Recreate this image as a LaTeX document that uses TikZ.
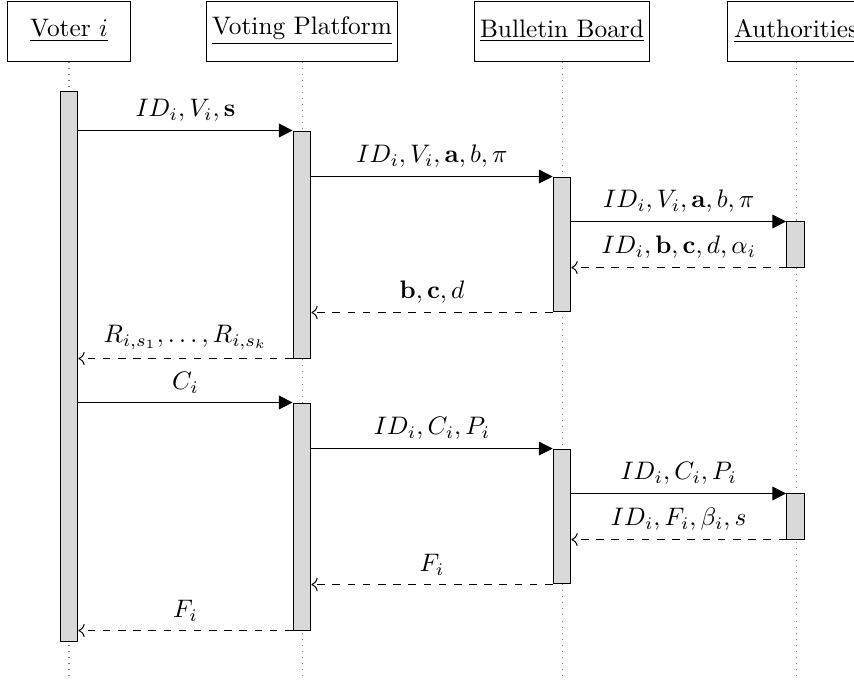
\documentclass[tikz,border=0pt]{standalone}
\usetikzlibrary{arrows.meta}
\begin{document}
\begin{tikzpicture}[x=0.395pt,y=-0.395pt,
  head/.style={draw, minimum height=23.7pt, inner sep=0pt},
  life/.style={draw=gray, dotted},
  act/.style={draw, fill=gray!30, minimum width=7pt, inner sep=0pt},
  call/.style={-{Triangle[length=5.4pt,width=5.4pt]}},
  ret/.style={dashed, ->},
  lab/.style={above, midway}]
\clip (0,0) rectangle (854,679);
\coordinate (bot) at (0,679);
% headers
\node[head, minimum width=48.2pt] (vh) at (69,31) {\underline{Voter $i$}};
\node[head, minimum width=75.8pt] (ph) at (302,31) {\underline{Voting Platform}};
\node[head, minimum width=69.1pt] (bh) at (562,31) {\underline{Bulletin Board}};
\node[head, minimum width=54.5pt] (ah) at (796,31) {\underline{Authorities}};
% lifelines
\draw[life] (vh) -- (vh |- bot);
\draw[life] (ph) -- (ph |- bot);
\draw[life] (bh) -- (bh |- bot);
\draw[life] (ah) -- (ah |- bot);
% activations
\node[act, minimum height=217.25pt] (va) at (69,366) {};
\node[act, minimum height=89.67pt] (vp1) at (302,244.5) {};
\node[act, minimum height=89.67pt] (vp2) at (302,516.5) {};
\node[act, minimum height=53.3pt] (bb1) at (562,244.5) {};
\node[act, minimum height=53.3pt] (bb2) at (562,516.5) {};
\node[act, minimum height=17.8pt] (au1) at (795.5,244.5) {};
\node[act, minimum height=17.8pt] (au2) at (795.5,516.5) {};
% messages, first round
\draw[call] (va.east |- vp1.north west) -- node[lab] {$ID_i, V_i, \mathbf{s}$} (vp1.north west);
\draw[call] (vp1.east |- bb1.north west) -- node[lab] {$ID_i, V_i, \mathbf{a}, b, \pi$} (bb1.north west);
\draw[call] (bb1.east |- au1.north west) -- node[lab] {$ID_i, V_i, \mathbf{a}, b, \pi$} (au1.north west);
\draw[ret] (au1.south west) -- node[lab] {$ID_i, \mathbf{b}, \mathbf{c}, d, \alpha_i$} (bb1.east |- au1.south west);
\draw[ret] (bb1.south west) -- node[lab] {$\mathbf{b}, \mathbf{c}, d$} (vp1.east |- bb1.south west);
\draw[ret] (vp1.south west) -- node[lab] {$R_{i,s_1}, \ldots, R_{i,s_k}$} (va.east |- vp1.south west);
% messages, second round
\draw[call] (va.east |- vp2.north west) -- node[lab] {$C_i$} (vp2.north west);
\draw[call] (vp2.east |- bb2.north west) -- node[lab] {$ID_i, C_i, P_i$} (bb2.north west);
\draw[call] (bb2.east |- au2.north west) -- node[lab] {$ID_i, C_i, P_i$} (au2.north west);
\draw[ret] (au2.south west) -- node[lab] {$ID_i, F_i, \beta_i, s$} (bb2.east |- au2.south west);
\draw[ret] (bb2.south west) -- node[lab] {$F_i$} (vp2.east |- bb2.south west);
\draw[ret] (vp2.south west) -- node[lab] {$F_i$} (va.east |- vp2.south west);
\end{tikzpicture}
\end{document}
